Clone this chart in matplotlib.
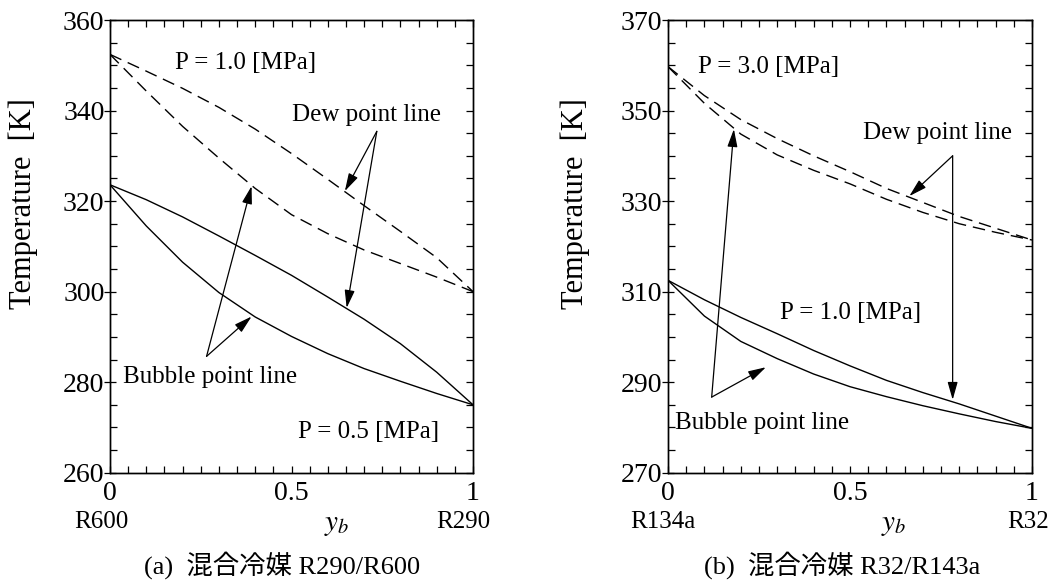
import matplotlib
matplotlib.use('Agg')
import matplotlib.pyplot as plt
from matplotlib.ticker import MultipleLocator, FixedLocator, FixedFormatter

plt.rcParams['font.family'] = ['Liberation Serif', 'Noto Sans CJK JP']
plt.rcParams['mathtext.fontset'] = 'stix'

# ---------------- data ----------------
y_frac = [0.0, 0.1, 0.2, 0.3, 0.4, 0.5, 0.6, 0.7, 0.8, 0.9, 1.0]

# (a) R290/R600
a_dew_10 = [352.4, 348.7, 344.9, 340.7, 335.9, 330.5, 324.8, 319.0, 313.3, 307.5, 300.0]
a_bub_10 = [352.4, 344.3, 336.5, 329.5, 322.8, 317.0, 312.8, 309.2, 306.2, 303.2, 300.0]
a_dew_05 = [323.6, 320.3, 316.5, 312.3, 308.0, 303.6, 298.8, 293.9, 288.5, 282.2, 275.0]
a_bub_05 = [323.6, 314.5, 306.5, 299.8, 294.4, 290.1, 286.3, 283.0, 280.2, 277.5, 275.0]

# (b) R32/R134a
b_dew_30 = [359.7, 353.3, 348.0, 343.8, 340.0, 336.5, 332.8, 329.7, 326.6, 324.0, 321.4]
b_bub_30 = [359.7, 351.6, 344.8, 340.2, 336.8, 333.8, 330.4, 327.5, 325.0, 323.1, 321.4]
b_dew_10 = [312.5, 308.2, 304.3, 300.7, 297.0, 293.6, 290.4, 287.7, 285.2, 282.5, 279.8]
b_bub_10 = [312.5, 304.6, 299.0, 295.2, 291.8, 289.0, 286.8, 284.8, 283.0, 281.3, 279.8]

x_ticks = [0, 0.5, 1]
x_tick_labels = ['0', '0.5', '1']
a_y_ticks = [260, 280, 300, 320, 340, 360]
b_y_ticks = [270, 290, 310, 330, 350, 370]

W, H = 1053, 585
fig = plt.figure(figsize=(W / 100, H / 100), dpi=100)

dash = (0, (9, 5))
arrow_kw = dict(arrowstyle='-|>,head_length=0.6,head_width=0.17', mutation_scale=18,
                lw=0.9, color='k', shrinkA=0, shrinkB=0)


def setup(ax, yticks):
    ylim = (yticks[0], yticks[-1])
    ax.set_xlim(0, 1)
    ax.set_ylim(*ylim)
    ax.xaxis.set_major_locator(FixedLocator(x_ticks))
    ax.xaxis.set_major_formatter(FixedFormatter(x_tick_labels))
    ax.xaxis.set_minor_locator(MultipleLocator(0.05))
    ax.yaxis.set_major_locator(FixedLocator(yticks))
    ax.yaxis.set_minor_locator(MultipleLocator(5))
    ax.tick_params(axis='x', which='both', direction='in', top=True, bottom=True,
                   length=5, width=0.9, labelsize=20, pad=6)
    ax.tick_params(axis='y', which='major', direction='inout', left=True, right=False,
                   length=8, width=0.9, labelsize=20, pad=0)
    ax.tick_params(axis='y', which='minor', direction='in', left=True, right=False,
                   length=5, width=0.9)
    for s in ax.spines.values():
        s.set_linewidth(1.0)
    tw = ax.twinx()
    tw.set_ylim(*ylim)
    tw.yaxis.set_major_locator(FixedLocator(yticks))
    tw.yaxis.set_minor_locator(MultipleLocator(5))
    tw.tick_params(axis='y', which='both', direction='in', right=True, labelright=False,
                   length=5, width=0.9)
    for s in tw.spines.values():
        s.set_linewidth(1.0)
    ax.set_ylabel('Temperature  [K]', fontsize=22)


# ---------------- panel (a) ----------------
ax1 = fig.add_axes([110 / W, 1 - 472.7 / H, 363 / W, 452.7 / H])
ax1.plot(y_frac, a_dew_10, color='k', lw=1.0, ls=dash)
ax1.plot(y_frac, a_bub_10, color='k', lw=1.0, ls=dash)
ax1.plot(y_frac, a_dew_05, color='k', lw=1.0)
ax1.plot(y_frac, a_bub_05, color='k', lw=1.0)
setup(ax1, a_y_ticks)
ax1.yaxis.set_label_coords(-0.198, 0.594)

ax1.text(0.179, 350.6, 'P = 1.0 [MPa]', fontsize=18, ha='left', va='center')
ax1.text(0.500, 339.0, 'Dew point line', fontsize=18, ha='left', va='center')
ax1.text(0.036, 281.1, 'Bubble point line', fontsize=18, ha='left', va='center')
ax1.text(0.518, 269.1, 'P = 0.5 [MPa]', fontsize=18, ha='left', va='center')
ax1.annotate('', xy=(0.647, 322.2), xytext=(0.735, 335.4), arrowprops=arrow_kw)
ax1.annotate('', xy=(0.652, 296.4), xytext=(0.735, 335.4), arrowprops=arrow_kw)
ax1.annotate('', xy=(0.390, 323.3), xytext=(0.266, 285.7), arrowprops=arrow_kw)
ax1.annotate('', xy=(0.390, 294.5), xytext=(0.266, 285.7), arrowprops=arrow_kw)

# ---------------- panel (b) ----------------
ax2 = fig.add_axes([668 / W, 1 - 472.7 / H, 364 / W, 452.7 / H])
ax2.plot(y_frac, b_dew_30, color='k', lw=1.0, ls=dash)
ax2.plot(y_frac, b_bub_30, color='k', lw=1.0, ls=dash)
ax2.plot(y_frac, b_dew_10, color='k', lw=1.0)
ax2.plot(y_frac, b_bub_10, color='k', lw=1.0)
setup(ax2, b_y_ticks)
ax2.yaxis.set_label_coords(-0.214, 0.594)

ax2.text(0.082, 359.7, 'P = 3.0 [MPa]', fontsize=18, ha='left', va='center')
ax2.text(0.537, 345.0, 'Dew point line', fontsize=18, ha='left', va='center')
ax2.text(0.019, 280.9, 'Bubble point line', fontsize=18, ha='left', va='center')
ax2.text(0.308, 305.2, 'P = 1.0 [MPa]', fontsize=18, ha='left', va='center')
ax2.annotate('', xy=(0.663, 331.1), xytext=(0.782, 340.0), arrowprops=arrow_kw)
ax2.annotate('', xy=(0.782, 286.1), xytext=(0.782, 340.0), arrowprops=arrow_kw)
ax2.annotate('', xy=(0.181, 345.9), xytext=(0.120, 286.7), arrowprops=arrow_kw)
ax2.annotate('', xy=(0.269, 293.3), xytext=(0.120, 286.7), arrowprops=arrow_kw)

# ---------------- axis annotations / captions ----------------
def ftext(px, py, s, **kw):
    fig.text(px / W, 1 - py / H, s, ha='center', va='center', **kw)

ftext(101.7, 522, 'R600', fontsize=18)
ftext(337, 525, r'$y_b$', fontsize=21)
ftext(463, 522, 'R290', fontsize=18)
ftext(282.5, 565, '(a)  混合冷媒 R290/R600', fontsize=19)

ftext(662.5, 522, 'R134a', fontsize=18)
ftext(894, 525, r'$y_b$', fontsize=21)
ftext(1028, 522, 'R32', fontsize=18)
ftext(841.7, 565, '(b)  混合冷媒 R32/R143a', fontsize=19)

fig.savefig('out.png', dpi=100)
